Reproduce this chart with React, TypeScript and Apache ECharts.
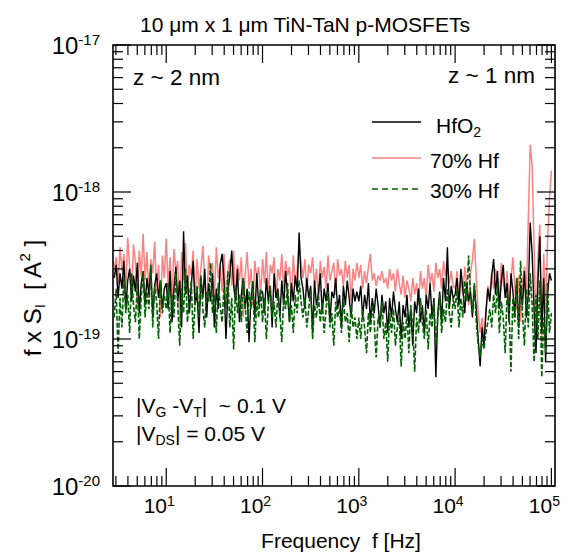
import React, { useEffect, useRef } from 'react';
import * as echarts from 'echarts';

// Frequency grid: 50 log-spaced mantissas per decade
const FREQ_MANTISSAS = [
  1.0, 1.047, 1.096, 1.148, 1.202, 1.259, 1.318, 1.38, 1.445, 1.514,
  1.585, 1.66, 1.738, 1.82, 1.905, 1.995, 2.089, 2.188, 2.291, 2.399,
  2.512, 2.63, 2.754, 2.884, 3.02, 3.162, 3.311, 3.467, 3.631, 3.802,
  3.981, 4.169, 4.365, 4.571, 4.786, 5.012, 5.248, 5.495, 5.754, 6.026,
  6.31, 6.607, 6.918, 7.244, 7.586, 7.943, 8.318, 8.71, 9.12, 9.55,
];
const FREQ_DECADES = [1, 10, 100, 1000, 10000];
const FREQ_START = 2.85;
const FREQ_END = 100000;

// f x S_I values in units of 1e-19 A^2
const UNIT = 1e-19;

const HF70 = [
  3.0, 3.6, 2.4, 4.2, 2.9, 3.8, 2.2, 4.9, 3.1, 2.0, 4.4, 3.3, 1.6, 4.0, 2.7, 5.2, 2.5, 3.9, 1.9, 3.5, 2.8, 4.6, 2.1, 3.2, 1.4, 3.7, 2.6,
  4.8, 2.3, 3.6, 1.8, 4.1, 2.9, 3.4, 1.3, 3.9, 2.5, 4.5, 2.0, 3.2, 2.7, 4.0, 1.7, 3.5, 2.2, 3.0, 4.3,
  2.4, 1.5, 3.7, 2.8, 3.3, 1.9, 4.2, 2.6, 3.1, 2.1, 3.8, 1.6, 2.9, 3.5, 2.3, 4.0, 1.8, 3.2, 2.5, 3.6,
  1.4, 2.8, 3.9, 2.2, 3.0, 1.7, 3.4, 2.6, 3.1, 2.0,
  3.5, 2.4, 3.9, 2.0, 3.2, 2.8, 3.6, 1.9, 3.0, 2.5, 3.8, 2.2, 3.4, 2.7, 3.1, 1.8, 3.7, 2.4, 2.9, 4.3,
  3.3, 2.6, 3.5, 2.1, 3.2, 2.8, 3.6, 2.3, 3.0, 1.9, 3.4, 2.6, 3.1, 2.2, 3.7, 2.5, 2.9, 3.3, 2.0, 3.5,
  2.7, 3.0, 2.3, 3.4, 2.6, 3.2, 1.8, 3.0, 2.5, 3.3,
  2.6, 3.2, 2.2, 2.9, 2.4, 3.1, 3.8, 2.5, 2.8, 2.3, 2.7, 2.5, 2.9, 2.4, 2.6, 2.2, 3.0, 2.5, 2.8, 2.1,
  3.0, 2.4, 2.0, 2.7, 1.9, 2.5, 2.2, 1.8, 2.6, 2.0, 2.4, 1.7, 2.9, 2.2, 2.6, 1.9, 3.2, 2.4, 2.8, 2.1,
  3.3, 2.6, 3.0, 2.2, 3.4, 2.7, 3.1, 2.4, 2.9, 2.3,
  2.2, 2.9, 1.8, 2.6, 2.0, 3.1, 2.4, 1.7, 2.8, 3.5, 4.8, 2.6, 1.5, 1.1, 1.4, 0.95, 1.6, 2.3, 1.9, 2.8,
  2.2, 3.0, 2.5, 1.8, 3.3, 2.4, 2.0, 2.9, 1.7, 2.5, 3.6, 2.2, 1.6, 2.7, 1.3, 2.4, 3.1, 1.9, 6.5, 21.0,
  15.0, 4.2, 1.2, 3.5, 6.0, 0.9, 3.8, 1.5, 4.6, 9.0,
  14.0,
];

const HFO2 = [
  2.6, 3.2, 1.9, 2.8, 2.2, 3.4, 1.6, 2.5, 3.0, 1.8, 2.7, 2.1, 3.3, 1.5, 2.4, 2.9, 1.7, 2.6, 2.0, 3.1, 1.4, 2.3, 2.8, 1.9, 2.5, 1.6, 2.2,
  2.4, 1.6, 2.9, 1.3, 2.2, 3.1, 1.8, 2.5, 1.2, 5.4, 2.0, 2.7, 1.5, 2.3, 3.4, 1.7, 2.1, 1.1, 2.6, 1.9,
  3.0, 1.4, 2.4, 1.8, 2.8, 1.2, 2.2, 1.6, 3.2, 3.8, 2.5, 1.0, 2.1, 2.7, 4.0, 2.3, 1.8, 3.0, 1.3, 2.0,
  2.6, 1.6, 2.2, 0.95, 1.9, 2.4, 1.4, 2.8, 1.7, 2.1,
  2.1, 1.5, 2.6, 1.8, 2.3, 1.2, 2.8, 1.9, 2.2, 1.4, 2.5, 1.7, 2.9, 2.0, 1.3, 2.4, 1.8, 2.7, 2.1, 5.3,
  2.6, 2.2, 1.6, 2.6, 1.9, 2.3, 1.1, 2.5, 1.7, 2.0, 2.8, 1.5, 2.2, 1.8, 2.4, 1.3, 2.1, 1.9, 2.6, 1.6,
  2.0, 1.2, 2.3, 1.7, 2.5, 1.9, 1.4, 2.2, 1.8, 2.1,
  1.8, 2.3, 1.4, 2.0, 1.6, 2.4, 1.3, 1.9, 1.5, 2.2, 1.7, 1.2, 2.0, 1.5, 1.8, 1.1, 1.9, 1.4, 2.1, 1.6,
  1.3, 1.8, 1.0, 1.7, 1.4, 2.0, 1.2, 1.6, 0.9, 1.8, 1.5, 2.2, 1.3, 1.7, 1.1, 2.0, 1.6, 2.4, 1.4, 1.9,
  0.55, 1.5, 2.1, 1.3, 2.6, 1.8, 4.2, 1.6, 2.3, 1.9,
  2.0, 2.6, 1.7, 3.0, 2.2, 1.5, 2.4, 1.8, 2.1, 1.4, 2.3, 1.6, 1.0, 0.65, 1.2, 0.9, 1.5, 2.2, 1.8, 2.7,
  3.5, 2.0, 2.9, 1.6, 2.5, 3.2, 1.9, 2.4, 1.3, 2.8, 2.1, 1.5, 2.6, 1.2, 2.3, 1.7, 2.9, 1.4, 2.0, 6.2,
  3.8, 1.6, 0.8, 2.4, 5.0, 1.1, 2.6, 0.7, 2.0, 2.8,
  2.5,
];

const HF30 = [
  1.4, 2.2, 0.8, 1.9, 1.2, 2.6, 1.5, 2.0, 1.1, 2.8, 1.7, 1.3, 2.4, 1.0, 1.9, 2.9, 1.4, 2.1, 1.6, 3.2, 1.2, 2.3, 1.8, 1.0, 2.5, 1.5, 2.0,
  1.6, 2.4, 1.1, 2.0, 1.4, 2.8, 1.7, 0.9, 2.2, 1.5, 3.0, 1.3, 1.9, 2.5, 1.0, 1.8, 2.3, 1.4, 2.7, 1.6,
  1.2, 2.1, 1.8, 3.3, 1.5, 2.0, 1.1, 2.4, 1.7, 1.3, 2.2, 1.6, 2.9, 1.2, 1.9, 0.85, 2.3, 1.5, 2.0, 1.3,
  2.6, 1.7, 1.1, 2.1, 1.6, 2.5, 0.95, 1.8, 1.4, 2.2,
  1.3, 1.9, 1.0, 1.7, 2.3, 1.4, 1.8, 1.2, 2.1, 1.5, 0.95, 1.9, 1.6, 2.4, 1.3, 1.7, 1.1, 2.0, 1.5, 2.5,
  1.8, 1.4, 1.9, 1.2, 1.6, 2.2, 1.0, 1.7, 1.4, 2.0, 1.3, 1.8, 1.1, 1.6, 2.1, 1.2, 1.5, 0.9, 1.8, 1.4,
  1.6, 1.1, 1.9, 1.3, 1.5, 0.95, 1.7, 1.2, 1.4, 1.0,
  1.4, 1.0, 1.6, 1.2, 0.8, 1.5, 1.1, 1.7, 1.3, 0.75, 1.4, 1.2, 1.8, 1.0, 1.3, 0.7, 1.5, 1.1, 1.6, 0.9,
  1.2, 1.4, 0.65, 1.3, 1.0, 1.5, 0.8, 1.7, 1.2, 0.6, 1.4, 1.1, 1.9, 1.3, 1.0, 1.6, 0.85, 1.5, 1.2, 1.8,
  0.9, 1.4, 2.0, 1.1, 1.6, 1.3, 2.2, 1.5, 1.2, 1.9,
  1.6, 2.2, 1.2, 1.9, 1.4, 2.5, 1.8, 3.7, 2.0, 1.5, 2.4, 1.3, 0.9, 0.75, 1.0, 0.85, 1.1, 1.3, 1.6, 1.2,
  2.0, 1.5, 2.3, 1.1, 1.8, 1.4, 0.8, 2.1, 1.6, 0.6, 1.9, 1.3, 2.6, 1.0, 3.4, 1.5, 0.9, 2.2, 1.2, 2.8,
  1.7, 0.7, 2.0, 1.0, 2.5, 0.55, 1.4, 0.8, 2.4, 1.1,
  1.5,
];

const SERIES_NAMES = ['HfO2', '70% Hf', '30% Hf'];
const X_MIN = 2.8;
const X_MAX = 1.09e5;
const Y_MIN = 1e-20;
const Y_MAX = 1e-17;

const FONT = "'Liberation Sans', Arial, Helvetica, sans-serif";
const C_BLACK = '#000000';
const C_SALMON = '#ff8080';
const C_GREEN = '#006400';

function buildFreqs(): number[] {
  const out: number[] = [];
  FREQ_DECADES.forEach((d) => {
    FREQ_MANTISSAS.forEach((m) => {
      const f = m * d;
      if (f >= FREQ_START) out.push(f);
    });
  });
  out.push(FREQ_END);
  return out;
}

function buildTicks() {
  const ticks: number[][] = [];
  for (let n = 0; n <= 5; n++) {
    for (let m = 1; m <= 9; m++) {
      const v = m * Math.pow(10, n);
      if (v >= X_MIN && v <= X_MAX) ticks.push([v, 1e-19, 0, m === 1 ? 1 : 0]);
    }
  }
  for (let n = -20; n <= -17; n++) {
    for (let m = 1; m <= 9; m++) {
      const v = m * Math.pow(10, n);
      if (v >= Y_MIN * 0.999 && v <= Y_MAX * 1.001) ticks.push([100, v, 1, m === 1 ? 1 : 0]);
    }
  }
  return ticks;
}

const supLabel = (v: number) => {
  const e = Math.log10(v);
  const r = Math.round(e);
  if (Math.abs(e - r) > 1e-6) return '';
  return `{b|10}{s|${r}}`;
};

export default function App() {
  const ref = useRef<HTMLDivElement>(null);
  useEffect(() => {
    if (!ref.current) return;
    const prevMargin = document.body.style.margin;
    document.body.style.margin = '0';
    const chart = echarts.init(ref.current, undefined, { renderer: 'svg' });
    const freqs = buildFreqs();
    const mk = (arr: number[]) => freqs.map((f, i) => [f, arr[i] * UNIT]);
    const ticks = buildTicks();

    const xLabelRich = {
      b: { fontSize: 21, fontFamily: FONT, color: '#000', lineHeight: 23 },
      s: { fontSize: 14, fontFamily: FONT, color: '#000', verticalAlign: 'top', lineHeight: 14 },
      p: { width: 14 },
    };
    const yLabelRich = {
      b: { fontSize: 24, fontFamily: FONT, color: '#000', lineHeight: 26 },
      s: { fontSize: 15, fontFamily: FONT, color: '#000', verticalAlign: 'top', lineHeight: 15 },
    };
    const subRich = {
      sub: { fontSize: 14, fontFamily: FONT, fill: '#000', verticalAlign: 'bottom', lineHeight: 14 },
      sup: { fontSize: 14, fontFamily: FONT, fill: '#000', verticalAlign: 'top', lineHeight: 14 },
    };
    const nameRich = {
      sub: { fontSize: 15, fontFamily: FONT, fill: '#000', verticalAlign: 'bottom', lineHeight: 15 },
      sup: { fontSize: 15, fontFamily: FONT, fill: '#000', verticalAlign: 'top', lineHeight: 15 },
    };
    const textStyle = (extra: any) => ({
      fontSize: 21,
      fontFamily: FONT,
      fill: '#000',
      ...extra,
    });

    chart.setOption({
      animation: false,
      backgroundColor: '#fff',
      title: {
        text: '10 μm x 1 μm TiN-TaN p-MOSFETs',
        left: 300,
        top: 9,
        textAlign: 'center',
        textStyle: { fontSize: 21, fontWeight: 'normal', fontFamily: FONT, color: '#000' },
      },
      grid: {
        left: 113,
        right: 17,
        top: 45,
        bottom: 74,
        show: true,
        borderColor: '#000',
        borderWidth: 1.6,
        backgroundColor: 'transparent',
      },
      xAxis: {
        type: 'log',
        logBase: 10,
        min: X_MIN,
        max: X_MAX,
        name: 'Frequency  f [Hz]',
        nameLocation: 'middle',
        nameGap: 44,
        nameTextStyle: { fontSize: 21, fontFamily: FONT, color: '#000', padding: [0, 0, 0, 14] },
        axisLine: { show: false },
        axisTick: { show: false },
        splitLine: { show: false },
        axisLabel: {
          margin: 8,
          formatter: (v: number) => {
            const s = supLabel(v);
            return s ? s + '{p|}' : '';
          },
          rich: xLabelRich,
        },
      },
      yAxis: {
        type: 'log',
        logBase: 10,
        min: Y_MIN,
        max: Y_MAX,
        axisLine: { show: false },
        axisTick: { show: false },
        splitLine: { show: false },
        axisLabel: {
          margin: 13,
          formatter: (v: number) => supLabel(v),
          rich: yLabelRich,
        },
      },
      graphic: [
        {
          type: 'text',
          x: 32,
          y: 298,
          rotation: Math.PI / 2,
          style: textStyle({
            text: 'f x S{sub|I}  [ A{sup|2} ]',
            fontSize: 24,
            align: 'center',
            verticalAlign: 'middle',
            lineHeight: 30,
            rich: nameRich,
          }),
        },
        {
          type: 'text',
          x: 133,
          y: 77,
          style: textStyle({ text: 'z ~ 2 nm', fontSize: 22.5, align: 'left', verticalAlign: 'middle' }),
        },
        {
          type: 'text',
          x: 535,
          y: 75,
          style: textStyle({ text: 'z ~ 1 nm', fontSize: 22.5, align: 'right', verticalAlign: 'middle' }),
        },
        {
          type: 'text',
          x: 136,
          y: 405,
          style: textStyle({
            text: '|V{sub|G} -V{sub|T}|  ~ 0.1 V',
            align: 'left',
            verticalAlign: 'middle',
            lineHeight: 28,
            rich: subRich,
          }),
        },
        {
          type: 'text',
          x: 136,
          y: 433,
          style: textStyle({
            text: '|V{sub|DS}| = 0.05 V',
            align: 'left',
            verticalAlign: 'middle',
            lineHeight: 28,
            rich: subRich,
          }),
        },
        // legend
        { type: 'line', shape: { x1: 372, y1: 122, x2: 421, y2: 122 }, style: { stroke: C_BLACK, lineWidth: 1.4 } },
        { type: 'line', shape: { x1: 372, y1: 158, x2: 421, y2: 158 }, style: { stroke: C_SALMON, lineWidth: 1.4 } },
        { type: 'line', shape: { x1: 372, y1: 189, x2: 421, y2: 189 }, style: { stroke: C_GREEN, lineWidth: 1.4, lineDash: [6, 4] } },
        {
          type: 'text',
          x: 436,
          y: 125,
          style: textStyle({ text: 'HfO{sub|2}', align: 'left', verticalAlign: 'middle', lineHeight: 28, rich: subRich }),
        },
        { type: 'text', x: 430, y: 160, style: textStyle({ text: '70% Hf', align: 'left', verticalAlign: 'middle' }) },
        { type: 'text', x: 430, y: 190, style: textStyle({ text: '30% Hf', align: 'left', verticalAlign: 'middle' }) },
      ],
      series: [
        {
          name: SERIES_NAMES[1],
          type: 'line',
          data: mk(HF70),
          showSymbol: false,
          symbol: 'none',
          lineStyle: { color: C_SALMON, width: 1.5 },
          itemStyle: { color: C_SALMON },
        },
        {
          name: SERIES_NAMES[0],
          type: 'line',
          data: mk(HFO2),
          showSymbol: false,
          symbol: 'none',
          lineStyle: { color: C_BLACK, width: 1.4 },
          itemStyle: { color: C_BLACK },
        },
        {
          name: SERIES_NAMES[2],
          type: 'line',
          data: mk(HF30),
          showSymbol: false,
          symbol: 'none',
          lineStyle: { color: C_GREEN, width: 1.6, type: [5, 2] },
          itemStyle: { color: C_GREEN },
        },
        {
          type: 'custom',
          silent: true,
          z: 10,
          data: ticks,
          renderItem: (params: any, api: any) => {
            const cs = params.coordSys;
            const kind = api.value(2);
            const major = api.value(3) === 1;
            const len = major ? 18 : 10;
            const p = api.coord([api.value(0), api.value(1)]);
            const style = { stroke: '#000', lineWidth: 1.2 };
            if (kind === 0) {
              const x = p[0];
              const b = cs.y + cs.height;
              const t = cs.y;
              return {
                type: 'group',
                children: [
                  { type: 'line', shape: { x1: x, y1: b, x2: x, y2: b - len }, style },
                  { type: 'line', shape: { x1: x, y1: t, x2: x, y2: t + len }, style },
                ],
              };
            }
            const y = p[1];
            const l = cs.x;
            const r = cs.x + cs.width;
            return {
              type: 'group',
              children: [
                { type: 'line', shape: { x1: l, y1: y, x2: l + len, y2: y }, style },
                { type: 'line', shape: { x1: r, y1: y, x2: r - len, y2: y }, style },
              ],
            };
          },
        },
      ],
    });
    return () => {
      chart.dispose();
      document.body.style.margin = prevMargin;
    };
  }, []);
  return <div ref={ref} style={{ width: 572, height: 560 }} />;
}
